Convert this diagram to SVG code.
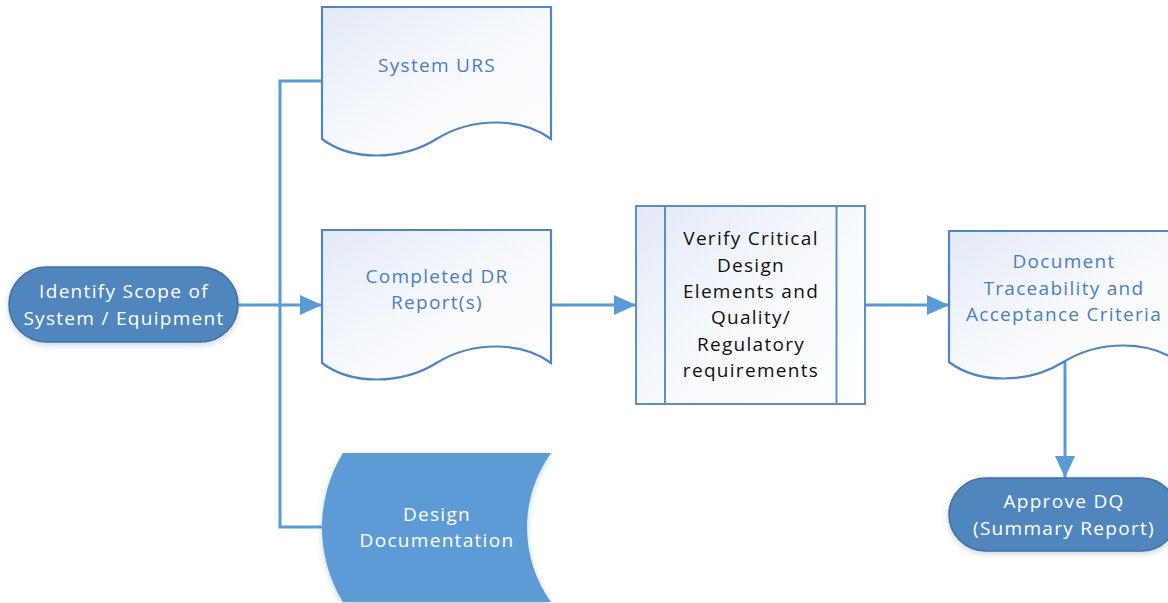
<svg xmlns="http://www.w3.org/2000/svg" width="1168" height="603" viewBox="0 0 1168 603">
  <style>
    .conn { fill: none; stroke: #5b9bd5; stroke-width: 3; }
    .doc { fill: url(#paper); stroke: #4f87c4; stroke-width: 2.2; }
    .term { fill: #5086bd; stroke: #41719c; stroke-width: 1.5; filter: url(#soft); }
    .lbl { font-family: "Open Sans", "Liberation Sans", sans-serif; font-size: 19px; letter-spacing: 1.3px; text-anchor: middle; }
    .blue { fill: #4a80c0; }
    .white { fill: #ffffff; }
    .dark { fill: #111111; }
  </style>
  <defs>
    <linearGradient id="paper" x1="0" y1="0" x2="1" y2="1">
      <stop offset="0" stop-color="#e3eaf6"/>
      <stop offset="0.55" stop-color="#f8fafd"/>
      <stop offset="1" stop-color="#ffffff"/>
    </linearGradient>
    <filter id="soft" x="-10%" y="-20%" width="120%" height="140%">
      <feDropShadow dx="0" dy="2" stdDeviation="3" flood-color="#5b7fa8" flood-opacity="0.35"/>
    </filter>
    <marker id="arrow" markerUnits="userSpaceOnUse" markerWidth="22" markerHeight="20" refX="22" refY="10" orient="auto">
      <path d="M0,0 L22,10 L0,20 Z" fill="#5b9bd5"/>
    </marker>
  </defs>

  <!-- connectors -->
  <g id="connectors">
    <path class="conn" d="M322,81 H280 V527 H324"/>
    <path class="conn" d="M238,305 H322" marker-end="url(#arrow)"/>
    <path class="conn" d="M551,305 H636" marker-end="url(#arrow)"/>
    <path class="conn" d="M865,305 H949" marker-end="url(#arrow)"/>
    <path class="conn" d="M1065,362 V478" marker-end="url(#arrow)"/>
  </g>

  <!-- start terminator -->
  <g id="identify-scope">
    <rect class="term" x="9" y="267" width="229" height="75" rx="37.5" ry="37.5"/>
    <text class="lbl white" x="124" y="298">Identify Scope of</text>
    <text class="lbl white" x="124" y="325">System / Equipment</text>
  </g>

  <!-- input documents -->
  <g id="system-urs">
    <path class="doc" d="M322,7 H551 V139 C522,117 472,117 436.5,139 C401,161 351,161 322,139 Z"/>
    <text class="lbl blue" x="437" y="72">System URS</text>
  </g>

  <g id="completed-dr">
    <path class="doc" d="M322,230 H551 V363 C522,341 472,341 436.5,363 C401,385 351,385 322,363 Z"/>
    <text class="lbl blue" x="437" y="283">Completed DR</text>
    <text class="lbl blue" x="437" y="309">Report(s)</text>
  </g>

  <g id="design-documentation">
    <path d="M343,453 H551 A127.6,127.6 0 0 0 551,602 H343 A142.6,142.6 0 0 1 343,453 Z" fill="#5b9bd5" filter="url(#soft)"/>
    <text class="lbl white" x="437" y="521">Design</text>
    <text class="lbl white" x="437" y="547">Documentation</text>
  </g>

  <!-- predefined process -->
  <g id="verify-critical">
    <rect x="636" y="206" width="229" height="198" fill="url(#paper)" stroke="#5b8fc9" stroke-width="2"/>
    <line x1="665" y1="206" x2="665" y2="404" stroke="#5b8fc9" stroke-width="2"/>
    <line x1="836.5" y1="206" x2="836.5" y2="404" stroke="#5b8fc9" stroke-width="2"/>
    <text class="lbl dark" x="751" y="245">Verify Critical</text>
    <text class="lbl dark" x="751" y="272">Design</text>
    <text class="lbl dark" x="751" y="298">Elements and</text>
    <text class="lbl dark" x="751" y="324">Quality/</text>
    <text class="lbl dark" x="751" y="351">Regulatory</text>
    <text class="lbl dark" x="751" y="377">requirements</text>
  </g>

  <!-- output document -->
  <g id="document-traceability">
    <path class="doc" d="M949,231 H1178 V362 C1149,340 1099,340 1063.5,362 C1028,384 978,384 949,362 Z"/>
    <text class="lbl blue" x="1064" y="268">Document</text>
    <text class="lbl blue" x="1064" y="295">Traceability and</text>
    <text class="lbl blue" x="1064" y="321">Acceptance Criteria</text>
  </g>

  <!-- end terminator -->
  <g id="approve-dq">
    <rect class="term" x="949" y="478" width="229" height="73" rx="36.5" ry="36.5"/>
    <text class="lbl white" x="1064" y="508">Approve DQ</text>
    <text class="lbl white" x="1064" y="535">(Summary Report)</text>
  </g>
</svg>
